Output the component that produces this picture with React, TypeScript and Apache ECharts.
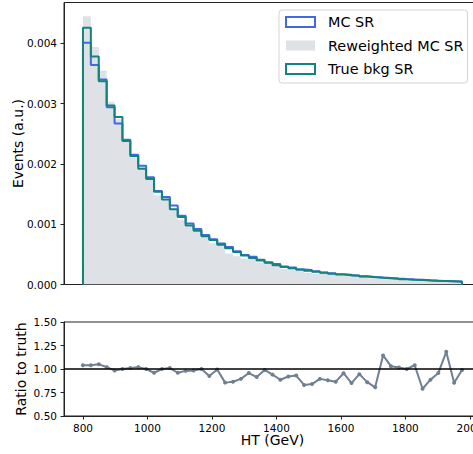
import React, { useEffect, useRef } from "react";
import * as echarts from "echarts";

// Left edges of the 49 HT bins (GeV)
const binLefts = [
  800.0, 824.5, 849.0, 873.5, 898.0, 922.4, 946.9, 971.4, 995.9, 1020.4,
  1044.9, 1069.4, 1093.9, 1118.4, 1142.9, 1167.3, 1191.8, 1216.3, 1240.8, 1265.3,
  1289.8, 1314.3, 1338.8, 1363.3, 1387.8, 1412.2, 1436.7, 1461.2, 1485.7, 1510.2,
  1534.7, 1559.2, 1583.7, 1608.2, 1632.7, 1657.1, 1681.6, 1706.1, 1730.6, 1755.1,
  1779.6, 1804.1, 1828.6, 1853.1, 1877.6, 1902.0, 1926.5, 1951.0, 1975.5,
];

const mcSR = [
  0.00401, 0.00364, 0.0034, 0.00294, 0.00267, 0.0024, 0.00215, 0.00197, 0.00178, 0.00155,
  0.00145, 0.00131, 0.00114, 0.00101, 0.00092, 0.00082, 0.00075, 0.00068, 0.00062, 0.00055,
  0.00049, 0.00046, 0.00041, 0.00037, 0.00034, 0.0003, 0.00028, 0.00025, 0.00024, 0.00022,
  0.0002, 0.000185, 0.00017, 0.00016, 0.000148, 0.000135, 0.000126, 0.000115, 0.000108, 0.000098,
  0.00009, 0.000083, 0.000077, 0.00007, 0.000064, 0.000058, 0.000054, 0.000048, 0.000044,
];

const reweightedSR = [
  0.00445, 0.00394, 0.00355, 0.00303, 0.00274, 0.00238, 0.00215, 0.00196, 0.00175, 0.00148,
  0.00141, 0.00126, 0.00108, 0.00096, 0.000877, 0.0008, 0.000685, 0.000657, 0.000513, 0.000467,
  0.00043, 0.000421, 0.000366, 0.000356, 0.000301, 0.000257, 0.000248, 0.000233, 0.000191, 0.000176,
  0.000175, 0.000158, 0.000143, 0.000148, 0.000123, 0.000126, 0.000105, 0.000091, 0.000119, 0.0001,
  0.000086, 0.00008, 0.000077, 0.000054, 0.000055, 0.000055, 0.000062, 0.00004, 0.000043,
];

const trueBkgSR = [
  0.00426, 0.00378, 0.00337, 0.00297, 0.00278, 0.00238, 0.00213, 0.00192, 0.00175, 0.00154,
  0.00141, 0.00125, 0.00112, 0.00098, 0.00089, 0.0008, 0.00074, 0.00066, 0.0006, 0.00054,
  0.00048, 0.00044, 0.0004, 0.00036, 0.00032, 0.00029, 0.00027, 0.00025, 0.00023, 0.00021,
  0.000195, 0.00018, 0.000165, 0.000155, 0.000145, 0.000133, 0.000122, 0.000113, 0.000104, 0.000097,
  0.000085, 0.00008, 0.000074, 0.000068, 0.000062, 0.000057, 0.000052, 0.000047, 0.000043,
];

const ratioToTruth = [
  1.04, 1.04, 1.05, 1.02, 0.985, 1.0, 1.01, 1.02, 1.0, 0.96,
  1.0, 1.01, 0.96, 0.98, 0.985, 1.0, 0.925, 0.995, 0.855, 0.865,
  0.895, 0.957, 0.914, 0.99, 0.94, 0.886, 0.92, 0.93, 0.83, 0.84,
  0.895, 0.88, 0.865, 0.955, 0.85, 0.945, 0.86, 0.805, 1.144, 1.03,
  1.015, 1.0, 1.04, 0.79, 0.886, 0.957, 1.183, 0.853, 0.99,
];

const xTicks = [800, 1000, 1200, 1400, 1600, 1800, 2000];
const yTopTicks = [0, 0.001, 0.002, 0.003, 0.004];
const yRatioTicks = [0.5, 0.75, 1.0, 1.25, 1.5];

const FONT = "DejaVu Sans";
const BLUE = "#4169e1";
const TEAL = "#11847e";
const GRAY = "#dee2e6";
const SLATE = "#708090";

function stepData(values: number[]) {
  const pts: number[][] = [[binLefts[0], 0]];
  values.forEach((v, i) => pts.push([binLefts[i], v]));
  pts.push([binLefts[binLefts.length - 1], 0]);
  return pts;
}

export default function App() {
  const ref = useRef<HTMLDivElement>(null);
  useEffect(() => {
    if (!ref.current) return;
    const chart = echarts.init(ref.current, null, { renderer: "svg" });
    const axisCommon = {
      axisLine: { show: true, lineStyle: { color: "#222", width: 1 } },
      splitLine: { show: false },
    };
    chart.setOption({
      animation: false,
      backgroundColor: "#fff",
      textStyle: { fontFamily: FONT },
      grid: [
        {
          left: 64, top: 2.5, width: 417, height: 282, show: true,
          borderColor: "#222", borderWidth: 1, outerBoundsMode: "none", containLabel: false,
        },
        {
          left: 64, top: 322, width: 417, height: 94, show: true,
          borderColor: "#222", borderWidth: 1, outerBoundsMode: "none", containLabel: false,
        },
      ],
      legend: {
        left: 279,
        top: 10,
        orient: "vertical",
        itemWidth: 29,
        itemHeight: 10,
        itemGap: 7.5,
        padding: [4, 4, 6, 6],
        backgroundColor: "rgba(255,255,255,0.85)",
        borderColor: "#d3d3d3",
        borderWidth: 1,
        borderRadius: 3,
        textStyle: { fontFamily: FONT, fontSize: 14.4, color: "#000", lineHeight: 16, padding: [0, 0, 0, 8] },
        data: [
          { name: "MC SR", icon: "rect", itemStyle: { color: "rgba(255,255,255,0)", borderColor: BLUE, borderWidth: 2 } },
          { name: "Reweighted MC SR", icon: "rect", itemStyle: { color: GRAY, borderWidth: 0 } },
          { name: "True bkg SR", icon: "rect", itemStyle: { color: "rgba(255,255,255,0)", borderColor: TEAL, borderWidth: 2 } },
        ],
      },
      xAxis: [
        {
          ...axisCommon,
          type: "value",
          gridIndex: 0,
          min: 741.2,
          max: 2034.3,
          axisTick: { show: false },
          axisLabel: { show: false },
        },
        {
          ...axisCommon,
          type: "value",
          gridIndex: 1,
          min: 741.2,
          max: 2034.3,
          name: "HT (GeV)",
          nameLocation: "middle",
          nameGap: 17,
          nameMoveOverlap: false,
          nameTextStyle: { fontFamily: FONT, fontSize: 14, color: "#000" },
          axisTick: { show: true, customValues: xTicks, length: 3.5, lineStyle: { color: "#222" } },
          axisLabel: {
            customValues: xTicks,
            fontFamily: FONT,
            fontSize: 10.5,
            color: "#000",
            margin: 6,
            formatter: (v: number) => String(v),
          },
        },
      ],
      yAxis: [
        {
          ...axisCommon,
          type: "value",
          gridIndex: 0,
          min: 0,
          max: 0.004677,
          name: "Events (a.u.)",
          nameLocation: "middle",
          nameGap: 39,
          nameMoveOverlap: false,
          nameTextStyle: { fontFamily: FONT, fontSize: 14, color: "#000" },
          axisTick: { show: true, customValues: yTopTicks, length: 3.5, lineStyle: { color: "#222" } },
          axisLabel: {
            customValues: yTopTicks,
            fontFamily: FONT,
            fontSize: 10.5,
            color: "#000",
            margin: 7,
            formatter: (v: number) => v.toFixed(3),
          },
        },
        {
          ...axisCommon,
          type: "value",
          gridIndex: 1,
          min: 0.5,
          max: 1.5,
          name: "Ratio to truth",
          nameLocation: "middle",
          nameGap: 36,
          nameMoveOverlap: false,
          nameTextStyle: { fontFamily: FONT, fontSize: 14, color: "#000" },
          axisTick: { show: true, customValues: yRatioTicks, length: 3.5, lineStyle: { color: "#222" } },
          axisLabel: {
            customValues: yRatioTicks,
            fontFamily: FONT,
            fontSize: 10.5,
            color: "#000",
            margin: 7,
            formatter: (v: number) => v.toFixed(2),
          },
        },
      ],
      series: [
        {
          name: "Reweighted MC SR",
          type: "line",
          xAxisIndex: 0,
          yAxisIndex: 0,
          step: "end",
          data: stepData(reweightedSR),
          showSymbol: false,
          lineStyle: { width: 0, color: GRAY },
          itemStyle: { color: GRAY },
          areaStyle: { color: GRAY, opacity: 1 },
          z: 1,
        },
        {
          name: "MC SR",
          type: "line",
          xAxisIndex: 0,
          yAxisIndex: 0,
          step: "end",
          data: stepData(mcSR),
          showSymbol: false,
          lineStyle: { width: 2, color: BLUE },
          itemStyle: { color: BLUE },
          z: 2,
        },
        {
          name: "True bkg SR",
          type: "line",
          xAxisIndex: 0,
          yAxisIndex: 0,
          step: "end",
          data: stepData(trueBkgSR),
          showSymbol: false,
          lineStyle: { width: 2, color: TEAL },
          itemStyle: { color: TEAL },
          z: 3,
        },
        {
          name: "ratio",
          type: "line",
          xAxisIndex: 1,
          yAxisIndex: 1,
          data: binLefts.map((x, i) => [x, ratioToTruth[i]]),
          symbol: "circle",
          symbolSize: 4,
          showSymbol: true,
          lineStyle: { width: 2, color: SLATE },
          itemStyle: { color: SLATE },
          markLine: {
            silent: true,
            symbol: ["none", "none"],
            label: { show: false },
            lineStyle: { color: "#000", width: 1.5, type: "solid" },
            data: [{ yAxis: 1 }],
          },
          z: 3,
        },
      ],
    });
    return () => chart.dispose();
  }, []);
  return (
    <div
      ref={ref}
      style={{ position: "fixed", left: 0, top: 0, width: 473, height: 454 }}
    />
  );
}
